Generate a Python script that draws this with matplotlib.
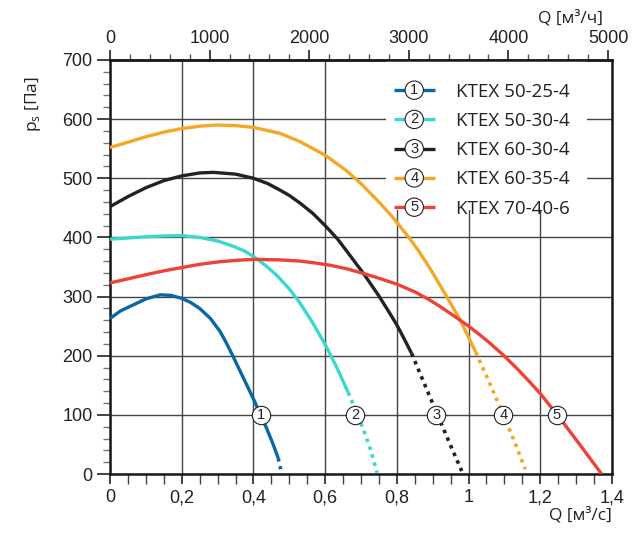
import matplotlib
matplotlib.use('Agg')
import matplotlib.pyplot as plt
from matplotlib.lines import Line2D
from matplotlib.patches import Circle, Rectangle
from matplotlib.legend_handler import HandlerBase
from matplotlib.text import Text
from matplotlib.ticker import MultipleLocator, FixedLocator, FuncFormatter

# данные: Q [м3/с], Ps [Па]
names = ['KTEX 50-25-4', 'KTEX 50-30-4', 'KTEX 60-30-4', 'KTEX 60-35-4', 'KTEX 70-40-6']
nums = ['1', '2', '3', '4', '5']
colors = ['#0b66a6', '#3ad8cf', '#222222', '#f5a727', '#ee4237']

q1 = [0, 0.03, 0.065, 0.1, 0.14, 0.17, 0.2, 0.225, 0.25, 0.28, 0.307, 0.325, 0.343,
      0.37, 0.4, 0.42, 0.437, 0.455, 0.469]
p1 = [263, 276, 286, 296, 303, 302, 297, 290, 280, 263, 241, 221, 199,
      165, 127, 100, 77, 50, 27]
q1_dot = [0.469, 0.476]
p1_dot = [27, 8]

q2 = [0, 0.05, 0.1, 0.15, 0.2, 0.25, 0.3, 0.344, 0.375, 0.4, 0.435, 0.465, 0.5,
      0.53, 0.565, 0.6, 0.635, 0.664]
p2 = [397, 399, 401, 402.5, 403, 400, 394, 385, 377, 368, 352, 336, 313,
      289, 256, 219, 177, 138]
q2_dot = [0.664, 0.685, 0.705, 0.725, 0.745]
p2_dot = [138, 108, 78, 44, 2]

q3 = [0, 0.05, 0.1, 0.15, 0.2, 0.25, 0.288, 0.35, 0.4, 0.44, 0.474, 0.5, 0.53, 0.565,
      0.6, 0.635, 0.66, 0.707, 0.75, 0.78, 0.8, 0.82, 0.841]
p3 = [452, 469, 484, 496, 504, 509, 510, 507, 500, 491, 480, 471, 458, 441,
      420, 397, 377, 339, 301, 272, 252, 229, 204]
q3_dot = [0.841, 0.875, 0.91, 0.945, 0.981]
p3_dot = [204, 155, 105, 55, 5]

q4 = [0, 0.05, 0.093, 0.15, 0.2, 0.25, 0.2975, 0.35, 0.4, 0.474, 0.53, 0.6, 0.657, 0.7,
      0.753, 0.79, 0.832, 0.86, 0.892, 0.939, 0.977, 1.02]
p4 = [552, 561, 569, 578, 584, 588, 590, 589, 586, 576, 562, 539, 514, 491,
      458, 433, 401, 378, 348, 300, 260, 206]
q4_dot = [1.02, 1.06, 1.097, 1.128, 1.158]
p4_dot = [206, 152, 100, 55, 8]

q5 = [0, 0.05, 0.1, 0.15, 0.2, 0.25, 0.307, 0.36, 0.4, 0.474, 0.53, 0.57, 0.614, 0.66,
      0.707, 0.75, 0.8, 0.85, 0.892, 0.921, 0.96, 1.0, 1.032, 1.06, 1.097, 1.134,
      1.17, 1.2, 1.25, 1.31, 1.371]
p5 = [323, 330, 337, 343.5, 349, 354.5, 359, 361.5, 363, 362, 360, 357, 353, 347,
      339, 331, 321, 308, 294, 283, 267, 250, 235, 221, 201, 179,
      156, 136, 98, 50, 0]
q5_dot = []
p5_dot = []

# положение кружков с номерами (на линии 100 Па)
label_q = [0.42, 0.683, 0.91, 1.097, 1.246]
label_p = 100

solid = [(q1, p1), (q2, p2), (q3, p3), (q4, p4), (q5, p5)]
dotted = [(q1_dot, p1_dot), (q2_dot, p2_dot), (q3_dot, p3_dot), (q4_dot, p4_dot), (q5_dot, p5_dot)]


class NumHandler(HandlerBase):
    def __init__(self, num):
        super().__init__()
        self.num = num

    def create_artists(self, legend, orig_handle, xdescent, ydescent, width, height, fontsize, trans):
        y = height / 2 - ydescent
        x0, x1 = -xdescent, width - xdescent
        xc = (x0 + x1) / 2
        ln = Line2D([x0, x1], [y, y], color=orig_handle.get_color(), lw=2.4, solid_capstyle='butt')
        c = Circle((xc, y), 6.6, fc='white', ec='#222222', lw=0.8)
        t = Text(xc, y, self.num, ha='center', va='center', fontsize=10.5, family='Liberation Sans', color='#222222')
        for a in (ln, c, t):
            a.set_transform(trans)
        return [ln, c, t]


fig = plt.figure(figsize=(6.33, 5.35), dpi=100)
ax = fig.add_axes([0.1738, 0.1140, 0.7930, 0.7739])

handles = []
for i in range(5):
    h, = ax.plot(solid[i][0], solid[i][1], color=colors[i], lw=2.4, zorder=3,
                 solid_capstyle='butt', solid_joinstyle='round')
    if len(dotted[i][0]) > 0:
        ax.plot(dotted[i][0], dotted[i][1], color=colors[i], lw=2.6, ls=(0, (1.0, 1.3)), zorder=3)
    handles.append(h)

# кружки с номерами
ax.scatter(label_q, [label_p] * 5, s=175, facecolor='white', edgecolor='#222222', lw=0.8, zorder=5)
for i in range(5):
    ax.text(label_q[i], label_p, nums[i], ha='center', va='center', fontsize=10.5,
            family='Liberation Sans', color='#222222', zorder=6)

ax.set_xlim(0, 1.4)
ax.set_ylim(0, 700)
ax.xaxis.set_major_locator(MultipleLocator(0.2))
ax.xaxis.set_minor_locator(MultipleLocator(0.05))
ax.yaxis.set_major_locator(MultipleLocator(100))
ax.yaxis.set_minor_locator(MultipleLocator(20))
ax.xaxis.set_major_formatter(FuncFormatter(lambda v, p: ('%g' % round(v, 2)).replace('.', ',')))
ax.grid(True, which='major', color='#444444', lw=1.0, zorder=1)
ax.set_axisbelow(True)

for s in ax.spines.values():
    s.set_color('#1a1a1a')
    s.set_linewidth(1.8)

ax.tick_params(axis='y', which='major', direction='out', length=9.5, width=1.2, color='#222222',
               pad=3, labelsize=13, labelcolor='#222222')
ax.tick_params(axis='y', which='minor', direction='out', length=5, width=1.0, color='#777777')
ax.tick_params(axis='x', which='major', direction='out', length=7, width=1.2, color='#222222',
               pad=4, labelsize=13, labelcolor='#222222')
ax.tick_params(axis='x', which='minor', direction='out', length=7, width=1.0, color='#444444')
for lab in ax.get_xticklabels() + ax.get_yticklabels():
    lab.set_family('Liberation Sans')

# верхняя ось в м3/ч
sec = ax.secondary_xaxis('top', functions=(lambda q: q * 3600, lambda h: h / 3600))
sec.xaxis.set_major_locator(FixedLocator([0, 1000, 2000, 3000, 4000, 5000]))
sec.xaxis.set_minor_locator(FixedLocator(list(range(0, 5001, 200))))
sec.tick_params(axis='x', which='major', direction='out', length=7, width=1.2, color='#222222',
                pad=2, labelsize=13, labelcolor='#222222')
sec.tick_params(axis='x', which='minor', direction='out', length=4, width=1.0, color='#555555')
sec.spines['top'].set_linewidth(1.8)
sec.spines['top'].set_color('#1a1a1a')
for lab in sec.get_xticklabels():
    lab.set_family('Liberation Sans')

# подписи осей
ax.text(1.0, -0.099, 'Q [м³/с]', transform=ax.transAxes, ha='right', va='center',
        fontsize=12.5, family='Open Sans', color='#222222')
ax.text(0.982, 1.101, 'Q [м³/ч]', transform=ax.transAxes, ha='right', va='center',
        fontsize=12.5, family='Open Sans', color='#222222')
ax.text(-0.153, 0.894, r'p$_\mathregular{s}$ [Па]', transform=ax.transAxes, ha='center', va='center',
        rotation=90, fontsize=12.5, family='Open Sans', color='#222222')

# белая подложка легенды
ax.add_patch(Rectangle((0.55, 0.638), 0.40, 0.36, transform=ax.transAxes, facecolor='white',
                       edgecolor='none', zorder=2))

hmap = {handles[i]: NumHandler(nums[i]) for i in range(5)}
leg = ax.legend(handles, names, handler_map=hmap, loc='upper left', bbox_to_anchor=(0.565, 0.945),
                frameon=False, prop={'family': 'Open Sans', 'size': 13.5}, handlelength=2.2,
                handletextpad=1.1, labelspacing=0.6, borderaxespad=0, borderpad=0)
for t in leg.get_texts():
    t.set_color('#222222')
leg.set_zorder(7)

plt.savefig('out.png', dpi=100, facecolor='white')
